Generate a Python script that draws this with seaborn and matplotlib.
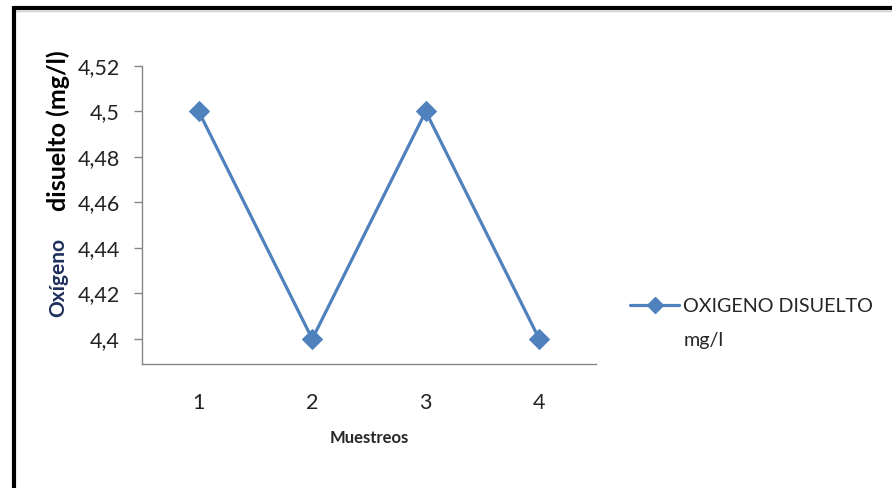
import matplotlib
matplotlib.use("Agg")
import matplotlib.pyplot as plt
from matplotlib.lines import Line2D
import seaborn as sns
import pandas as pd

# Sampling campaigns and measured dissolved oxygen
muestreos = [1, 2, 3, 4]
oxigeno = [4.50, 4.40, 4.50, 4.40]
y_ticks = [4.40, 4.42, 4.44, 4.46, 4.48, 4.50, 4.52]
y_tick_labels = ["4,4", "4,42", "4,44", "4,46", "4,48", "4,5", "4,52"]
x_tick_labels = ["1", "2", "3", "4"]
serie = "OXIGENO DISUELTO"
unidad = "mg/l"

sns.set_style("white")
plt.rcParams["font.family"] = ["Lato", "DejaVu Sans"]

BLUE = "#4F81BD"
AXIS_GREY = "#868686"

df = pd.DataFrame({"Muestreos": muestreos, "Oxigeno": oxigeno})

fig = plt.figure(figsize=(8.92, 4.88), dpi=100)
ax = fig.add_axes([142 / 892, 1 - 364 / 488, (596 - 142) / 892, (364 - 66) / 488])

sns.lineplot(data=df, x="Muestreos", y="Oxigeno", ax=ax, color=BLUE,
             linewidth=2.3, marker="D", markersize=10,
             markeredgecolor=BLUE, markerfacecolor=BLUE, legend=False)

ax.set_xlim(0.5, 4.5)
ax.set_ylim(4.389, 4.52)
ax.set_xticks(muestreos)
ax.set_xticklabels(x_tick_labels)
ax.set_yticks(y_ticks)
ax.set_yticklabels(y_tick_labels)

for side in ("top", "right"):
    ax.spines[side].set_visible(False)
for side in ("left", "bottom"):
    ax.spines[side].set_color(AXIS_GREY)
    ax.spines[side].set_linewidth(1.0)

ax.tick_params(axis="y", direction="out", length=6, width=1.0, color=AXIS_GREY,
               pad=10, labelsize=15.5, labelcolor="#222222", left=True)
ax.tick_params(axis="x", length=0, pad=21, labelsize=15.5, labelcolor="#222222")

ax.set_xlabel("Muestreos", fontsize=12, fontweight="bold", labelpad=12)
ax.set_ylabel("")

# Vertical axis title in two colours
fig.text(58 / 892, 1 - 277 / 488, "Oxígeno", rotation=90, ha="center", va="center",
         fontsize=15, fontweight="bold", color="#1F2F5C")
fig.text(58 / 892, 1 - 131 / 488, "disuelto (mg/l)", rotation=90, ha="center",
         va="center", fontsize=18, fontweight="bold", color="black")

# Legend: series marker and its two-line label
handles = [Line2D([], [], color=BLUE, linewidth=2.3, marker="D", markersize=8),
           Line2D([], [], color="none")]
fig.legend(handles, [serie, unidad], loc="upper left",
           bbox_to_anchor=(630 / 892, 1 - 298 / 488), frameon=False,
           fontsize=14.2, handlelength=2.5, handletextpad=0.2,
           labelspacing=0.85, borderpad=0, borderaxespad=0)

# Frame lines along the top and left edges
fig.add_artist(Line2D([12 / 892, 1.0], [1 - 11 / 488, 1 - 11 / 488],
                      color="#d0d0d0", linewidth=1.0, transform=fig.transFigure))
fig.add_artist(Line2D([14 / 892, 1.0], [1 - 8 / 488, 1 - 8 / 488],
                      color="black", linewidth=3.0, transform=fig.transFigure,
                      solid_capstyle="butt"))
fig.add_artist(Line2D([14 / 892, 14 / 892], [1 - 6 / 488, 0.0],
                      color="black", linewidth=3.0, transform=fig.transFigure,
                      solid_capstyle="butt"))

fig.savefig("out.png", dpi=100)
